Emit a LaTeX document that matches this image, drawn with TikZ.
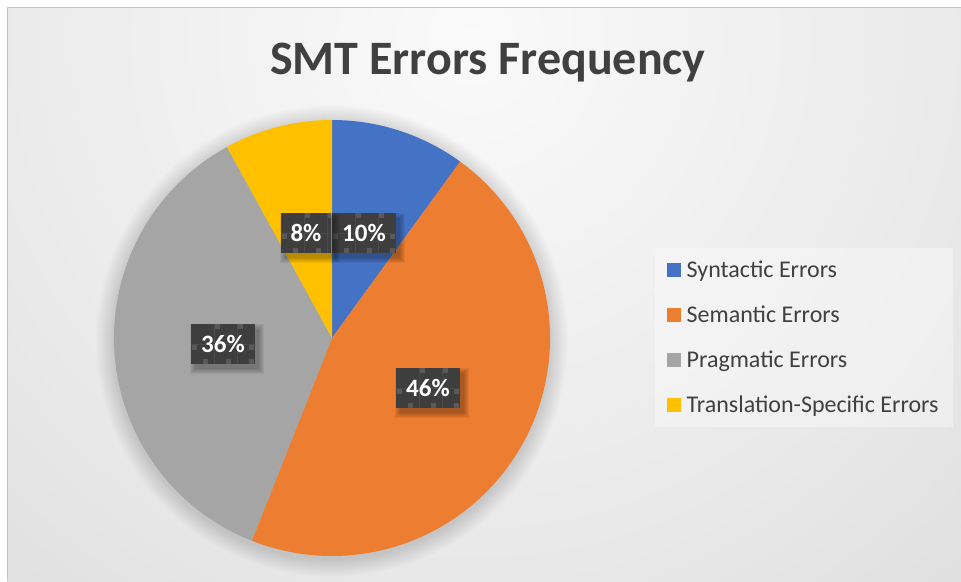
\documentclass[tikz,border=0pt]{standalone}
\usepackage{fontspec}
\setmainfont{Carlito}
\usetikzlibrary{calc}

\definecolor{sblue}{HTML}{4472C4}
\definecolor{sorange}{HTML}{ED7D31}
\definecolor{sgray}{HTML}{A5A5A5}
\definecolor{syellow}{HTML}{FFC000}
\definecolor{inkgray}{HTML}{404040}
\definecolor{framegray}{HTML}{C4C4C4}
\definecolor{bgA}{HTML}{FAFAFA}
\definecolor{bgB}{HTML}{E8E8E8}
\definecolor{bgC}{HTML}{C0C0C0}
\definecolor{lblfill}{HTML}{3E3E3E}
\definecolor{lblgrid}{HTML}{4B4B4B}
\definecolor{lblsq}{HTML}{595959}

% soft light-to-grey chart-area background
\pgfdeclareradialshading{chartbg}{\pgfpoint{0bp}{0bp}}%
  {color(0bp)=(bgA); color(18bp)=(bgB); color(50bp)=(bgC)}

\tikzset{
  pct/.style={text=white, inner sep=0pt, minimum height=40pt,
    font=\bfseries\fontsize{25}{25}\selectfont},
  legsq/.style={minimum size=14pt, inner sep=0pt},
  legtxt/.style={anchor=base west, inner sep=0pt, text=inkgray,
    font=\fontsize{24}{24}\selectfont},
}

% percentage label: soft drop shadow, dark textured box, white text
% arguments: name, centre x, centre y, width, text
\newcommand\pctlabel[5]{%
  \foreach \s in {0,...,5}
    \fill[black, opacity=0.05]
      ({#2-#4/2+4-\s},{#3-20+5-\s}) rectangle ({#2+#4/2+4+\s},{#3+20+5+\s});
  \begin{scope}
    \clip ({#2-#4/2},{#3-20}) rectangle ({#2+#4/2},{#3+20});
    \fill[lblfill] ({#2-#4/2},{#3-20}) rectangle ({#2+#4/2},{#3+20});
    \begin{scope}[shift={({#2-#4/2},{#3-20})}]
      \draw[lblgrid, line width=0.8pt] (23,0) -- (23,40) (46,0) -- (46,40)
           (0,20) -- (70,20);
      \foreach \px/\py in {24/0,47/0,1/21,58/21,12/35,35/35,58/35}
        \fill[lblsq] (\px,\py) rectangle ++(4.5,4.5);
    \end{scope}
  \end{scope}
  \node[pct, minimum width=#4 pt] (#1) at (#2,#3) {#5};
}

\begin{document}
\begin{tikzpicture}[x=1pt,y=-1pt]
\useasboundingbox (0,0) rectangle (961,581);
\fill[white] (0,0) rectangle (961,581);

% chart area
\begin{scope}
  \clip (7,7) rectangle (961,581);
  \shade[shading=chartbg] (470,40) circle (740);
\end{scope}
\draw[framegray, line width=1pt] (961,7.5) -- (7.5,7.5) -- (7.5,581);

% title
\node[anchor=base, inner sep=0pt, text=inkgray,
      font=\bfseries\fontsize{48}{48}\selectfont] (title) at (488,74)
      {SMT Errors Frequency};

% pie with its soft halo
\coordinate (c) at (332,338);
\foreach \k in {1,...,18}
  \fill[black, opacity=0.006] ($(c)+(0,3)$) circle ({218+\k});
\fill[sblue]   (c) -- ++(-90:218)   arc[start angle=-90,   end angle=-54,   radius=218] -- cycle;
\fill[sorange] (c) -- ++(-54:218)   arc[start angle=-54,   end angle=111.6, radius=218] -- cycle;
\fill[sgray]   (c) -- ++(111.6:218) arc[start angle=111.6, end angle=241.2, radius=218] -- cycle;
\fill[syellow] (c) -- ++(241.2:218) arc[start angle=241.2, end angle=270,   radius=218] -- cycle;

% data labels
\pctlabel{p10}{364}{233}{64}{10\%}
\pctlabel{p8}{306}{233}{50}{8\%}
\pctlabel{p36}{223}{344}{64}{36\%}
\pctlabel{p46}{428}{388}{64}{46\%}

% legend
\fill[white, opacity=0.35] (655,248) rectangle (953,427);
\node[legsq, fill=sblue]   (k1) at (674,269.7) {};
\node[legsq, fill=sorange] (k2) at (674,314.8) {};
\node[legsq, fill=sgray]   (k3) at (674,359.8) {};
\node[legsq, fill=syellow] (k4) at (674,404.8) {};
\node[legtxt] (t1) at (686.5,277.2) {Syntactic Errors};
\node[legtxt] (t2) at (686.5,322.3) {Semantic Errors};
\node[legtxt] (t3) at (686.5,367.3) {Pragmatic Errors};
\node[legtxt] (t4) at (686.5,412.3) {Translation-Specific Errors};
\end{tikzpicture}
\end{document}
